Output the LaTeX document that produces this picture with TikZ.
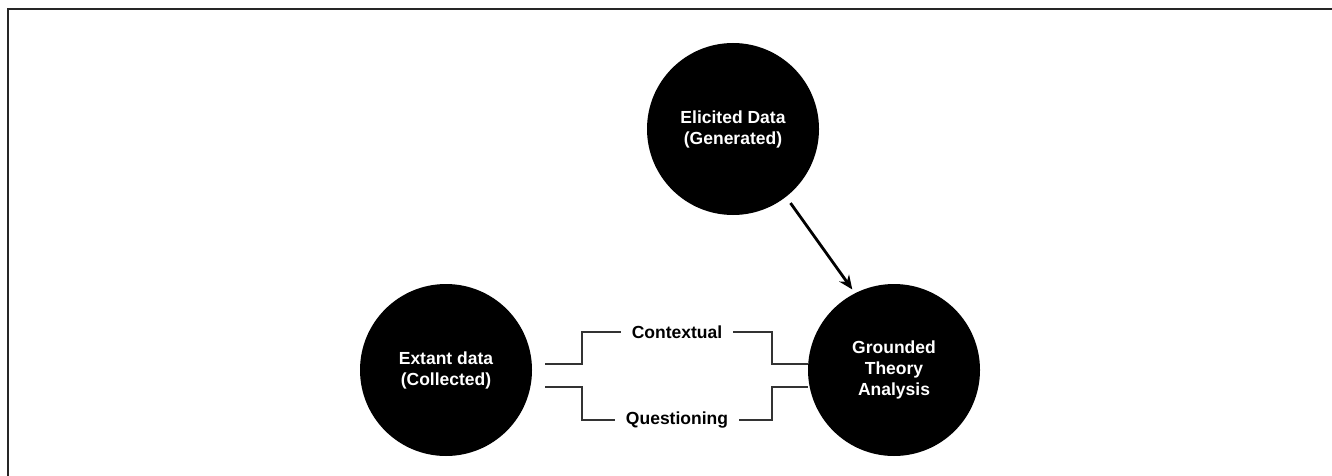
\documentclass[tikz,border=0pt]{standalone}
\usepackage{fontspec}
\setmainfont{Liberation Sans}
\usetikzlibrary{arrows.meta}
\begin{document}
\begin{tikzpicture}[x=1pt,y=-1pt,line width=1.5pt]
        \tikzstyle{blob}=[circle,fill=black,text=white,minimum size=172pt,inner sep=0pt,align=center,font=\bfseries\fontsize{17.5}{21}\selectfont];
        \tikzstyle{tag}=[inner sep=10pt,font=\bfseries\fontsize{17.5}{21}\selectfont];
        \tikzstyle{wire}=[draw=black!80,line width=1.4pt];
        \useasboundingbox (0,0) rectangle (1332,476);
        \draw[black!85,line width=2pt] (8,476) -- (8,9) -- (1332,9);
        \node[blob] (eli) at (733,129) {Elicited Data\\(Generated)};
        \node[blob] (ext) at (446,370) {Extant data\\(Collected)};
        \node[blob] (gta) at (894,370) {Grounded\\Theory\\Analysis};
        \node[tag] (ctx) at (677,332) {Contextual};
        \node[tag] (qst) at (677,420) {Questioning};
        \coordinate (a1) at (545,364);
        \coordinate (a2) at (545,387);
        \coordinate (b1) at (808,364);
        \coordinate (b2) at (808,387);
        \draw[wire] (a1) -- ++(37,0) |- (ctx);
        \draw[wire] (a2) -- ++(37,0) |- (qst);
        \draw[wire] (b1) -- ++(-36,0) |- (ctx);
        \draw[wire] (b2) -- ++(-36,0) |- (qst);
        \draw[line width=2.8pt,-{Stealth[length=14pt,width=12pt]},shorten <=7pt,shorten >=4pt] (eli.-52) -- (gta.117);
      \end{tikzpicture}
\end{document}
